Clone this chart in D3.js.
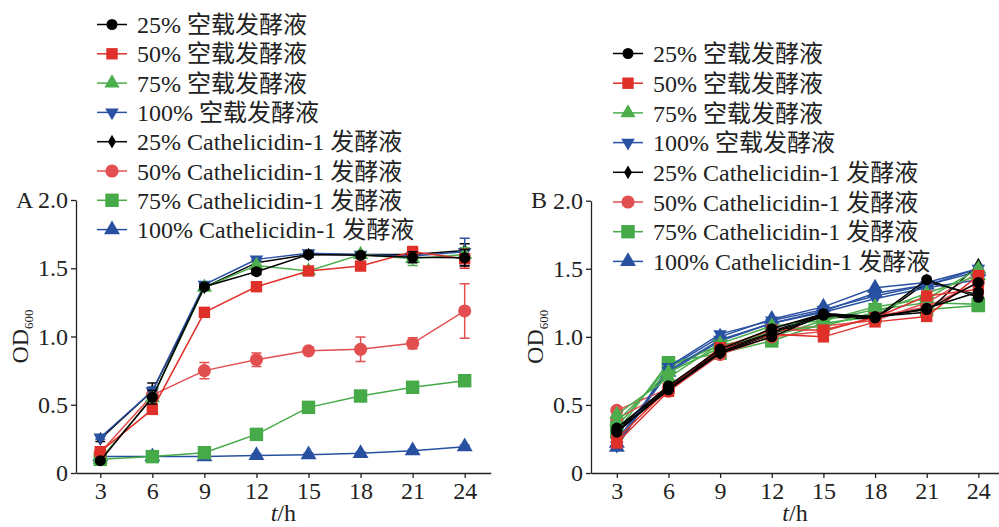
<!DOCTYPE html>
<html>
<head>
<meta charset="utf-8">
<script src="https://cdn.jsdelivr.net/npm/d3@7"></script>
<style>
    body { margin: 0; background: #fff; }
    svg { display: block; font-family: "Liberation Serif", "Times New Roman", "Noto Sans CJK SC", serif; }
</style>
</head>
<body>
<svg id="chart" width="999" height="527"></svg>
<script>
// время, ч
var hours = [3, 6, 9, 12, 15, 18, 21, 24]
var yTicks = [0, 0.5, 1.0, 1.5, 2.0]
var yTickLabels = ['0', '0.5', '1.0', '1.5', '2.0']

var legendNames = [
    '25% 空载发酵液',
    '50% 空载发酵液',
    '75% 空载发酵液',
    '100% 空载发酵液',
    '25% Cathelicidin-1 发酵液',
    '50% Cathelicidin-1 发酵液',
    '75% Cathelicidin-1 发酵液',
    '100% Cathelicidin-1 发酵液'
]
var colors = ['#000000', '#e0302a', '#4cae4c', '#2a52a3', '#000000', '#e24f50', '#45aa47', '#2850a0']
var shapes = ['circle', 'square', 'triangle', 'triangleDown', 'diamond', 'circle', 'square', 'triangle']
var markerSizes = [95, 130, 100, 80, 55, 135, 180, 110]

// панель A: средние
var a25Empty = [0.09, 0.555, 1.365, 1.475, 1.60, 1.595, 1.58, 1.577]
var a50Empty = [0.156, 0.466, 1.177, 1.365, 1.48, 1.516, 1.62, 1.57]
var a75Empty = [0.10, 0.55, 1.36, 1.52, 1.48, 1.60, 1.57, 1.60]
var a100Empty = [0.26, 0.60, 1.38, 1.565, 1.61, 1.60, 1.59, 1.62]
var a25Cath = [0.25, 0.60, 1.36, 1.54, 1.60, 1.60, 1.60, 1.63]
var a50Cath = [0.15, 0.57, 0.75, 0.83, 0.895, 0.906, 0.95, 1.187]
var a75Cath = [0.10, 0.12, 0.149, 0.283, 0.481, 0.564, 0.628, 0.676]
var a100Cath = [0.12, 0.12, 0.12, 0.129, 0.134, 0.144, 0.163, 0.193]

// панель A: ошибки
var a25EmptyErr = [0.01, 0.05, 0.02, 0.02, 0.02, 0.02, 0.04, 0.06]
var a50EmptyErr = [0.02, 0.03, 0.02, 0.02, 0.02, 0.02, 0.04, 0.07]
var a75EmptyErr = [0.01, 0.03, 0.02, 0.02, 0.02, 0.02, 0.05, 0.05]
var a100EmptyErr = [0.01, 0.03, 0.02, 0.02, 0.02, 0.02, 0.03, 0.10]
var a25CathErr = [0.02, 0.06, 0.02, 0.02, 0.02, 0.02, 0.03, 0.05]
var a50CathErr = [0.02, 0.05, 0.06, 0.05, 0.02, 0.09, 0.04, 0.20]
var a75CathErr = [0.01, 0.01, 0.01, 0.02, 0.02, 0.02, 0.02, 0.02]
var a100CathErr = [0.01, 0.01, 0.01, 0.01, 0.01, 0.01, 0.01, 0.01]

// панель B: повторы
var b25Empty = [
    [0.31, 0.61, 0.88, 1.00, 1.16, 1.14, 1.42, 1.29],
    [0.33, 0.64, 0.91, 1.06, 1.17, 1.15, 1.20, 1.40],
    [0.30, 0.62, 0.89, 1.03, 1.16, 1.14, 1.21, 1.33]
]
var b50Empty = [
    [0.22, 0.60, 0.90, 1.02, 1.00, 1.11, 1.15, 1.45],
    [0.25, 0.62, 0.92, 1.05, 1.05, 1.14, 1.30, 1.35]
]
var b75Empty = [
    [0.43, 0.70, 0.95, 1.08, 1.12, 1.22, 1.28, 1.50],
    [0.38, 0.74, 0.92, 1.04, 1.08, 1.18, 1.32, 1.45]
]
var b100Empty = [
    [0.20, 0.78, 1.02, 1.12, 1.20, 1.30, 1.38, 1.50],
    [0.24, 0.75, 0.98, 1.10, 1.18, 1.28, 1.36, 1.42]
]
var b25Cath = [
    [0.32, 0.63, 0.90, 1.04, 1.17, 1.15, 1.18, 1.53],
    [0.30, 0.61, 0.88, 1.02, 1.15, 1.13, 1.40, 1.31]
]
var b50Cath = [
    [0.46, 0.62, 0.91, 1.05, 1.08, 1.12, 1.25, 1.47],
    [0.40, 0.60, 0.87, 1.00, 1.04, 1.15, 1.22, 1.40]
]
var b75Cath = [
    [0.30, 0.81, 0.88, 0.97, 1.10, 1.15, 1.20, 1.23],
    [0.34, 0.78, 0.94, 1.00, 1.12, 1.20, 1.25, 1.24]
]
var b100Cath = [
    [0.19, 0.77, 1.00, 1.13, 1.22, 1.36, 1.40, 1.50],
    [0.22, 0.74, 0.97, 1.10, 1.19, 1.32, 1.38, 1.48]
]

var svg = d3.select('#chart')

function symbolPath(shape, size) {
    var types = {
        circle: d3.symbolCircle,
        square: d3.symbolSquare,
        triangle: d3.symbolTriangle,
        triangleDown: d3.symbolTriangle,
        diamond: d3.symbolDiamond
    }
    return d3.symbol().type(types[shape]).size(size)()
}

function drawMarker(g, i, cx, cy) {
    g.append('path')
        .attr('d', symbolPath(shapes[i], markerSizes[i]))
        .attr('fill', colors[i])
        .attr('transform', 'translate(' + cx + ',' + cy + ')' + (shapes[i] === 'triangleDown' ? ' rotate(180)' : ''))
}

function createPanel(cfg) {
    var x = d3.scaleLinear().domain(cfg.xDomain).range(cfg.xRange),
        y = d3.scaleLinear().domain([0, 2]).range(cfg.yRange)
    var g = svg.append('g')

    // оси
    var xAxis = g.append('g')
        .attr('transform', 'translate(0,' + cfg.yRange[0] + ')')
        .call(d3.axisBottom(x).tickValues(hours).tickSize(5).tickSizeOuter(0).tickFormat(d3.format('d')))
    var yAxis = g.append('g')
        .attr('transform', 'translate(' + cfg.xRange[0] + ',0)')
        .call(d3.axisLeft(y).tickValues(yTicks).tickSize(5).tickSizeOuter(0)
            .tickFormat(function (d, i) { return yTickLabels[i] }))
    g.selectAll('.domain').attr('stroke', '#222').attr('stroke-width', 1.3)
    g.selectAll('.tick line').attr('stroke', '#222').attr('stroke-width', 1.3)
    g.selectAll('.tick text')
        .attr('font-family', '"Liberation Serif", serif')
        .attr('font-size', 24)
        .attr('fill', '#222')
    xAxis.selectAll('.tick text').attr('y', 9)
    yAxis.selectAll('.tick text').attr('x', -8)

    // буква панели
    g.append('text')
        .attr('x', cfg.letterX)
        .attr('y', y(2))
        .attr('dy', '0.32em')
        .attr('font-size', 24)
        .attr('fill', '#222')
        .text(cfg.letter)

    // подписи осей
    var xt = g.append('text')
        .attr('x', (cfg.xRange[0] + cfg.xRange[1]) / 2)
        .attr('y', 521)
        .attr('text-anchor', 'middle')
        .attr('font-size', 24)
        .attr('fill', '#222')
    xt.append('tspan').attr('font-style', 'italic').text('t')
    xt.append('tspan').text('/h')

    var yt = g.append('text')
        .attr('transform', 'translate(' + cfg.yTitleX + ',' + y(1) + ') rotate(-90)')
        .attr('text-anchor', 'middle')
        .attr('font-size', 24)
        .attr('fill', '#222')
    yt.append('tspan').text('OD')
    yt.append('tspan').attr('font-size', 13).attr('dy', 5).text('600')

    var line = d3.line()
        .x(function (d, i) { return x(hours[i]) })
        .y(function (d) { return y(d) })

    // серии: сначала последние, чтобы 25% оказались сверху
    for (var i = cfg.series.length - 1; i >= 0; i--) {
        var reps = cfg.series[i]
        var sg = g.append('g')
        reps.forEach(function (vals) {
            sg.append('path')
                .datum(vals)
                .attr('fill', 'none')
                .attr('stroke', colors[i])
                .attr('stroke-width', 1.5)
                .attr('d', line)
        })
        if (cfg.errors) {
            var err = cfg.errors[i]
            reps[0].forEach(function (v, k) {
                var cx = x(hours[k])
                var top = y(v + err[k]), bot = y(v - err[k])
                sg.append('path')
                    .attr('d', 'M' + cx + ',' + top + 'V' + bot +
                        'M' + (cx - 5) + ',' + top + 'H' + (cx + 5) +
                        'M' + (cx - 5) + ',' + bot + 'H' + (cx + 5))
                    .attr('stroke', colors[i])
                    .attr('stroke-width', 1.5)
                    .attr('fill', 'none')
            })
        }
        reps.forEach(function (vals) {
            vals.forEach(function (v, k) {
                drawMarker(sg, i, x(hours[k]), y(v))
            })
        })
    }

    // легенда
    var lg = g.append('g')
    legendNames.forEach(function (name, i) {
        var ly = cfg.legendY + i * cfg.legendStep
        lg.append('line')
            .attr('x1', cfg.legendX).attr('x2', cfg.legendX + 30)
            .attr('y1', ly).attr('y2', ly)
            .attr('stroke', colors[i]).attr('stroke-width', 1.5)
        drawMarker(lg, i, cfg.legendX + 15, ly)
        lg.append('text')
            .attr('x', cfg.legendX + 40)
            .attr('y', ly)
            .attr('dy', '0.36em')
            .attr('font-size', 24)
            .attr('fill', '#222')
            .text(name)
    })
}

createPanel({
    letter: 'A',
    letterX: 16,
    yTitleX: 28,
    xDomain: [1.6, 25.5],
    xRange: [76, 490.7],
    yRange: [473, 200],
    series: [[a25Empty], [a50Empty], [a75Empty], [a100Empty], [a25Cath], [a50Cath], [a75Cath], [a100Cath]],
    errors: [a25EmptyErr, a50EmptyErr, a75EmptyErr, a100EmptyErr, a25CathErr, a50CathErr, a75CathErr, a100CathErr],
    legendX: 97,
    legendY: 24.5,
    legendStep: 29.3
})

createPanel({
    letter: 'B',
    letterX: 531,
    yTitleX: 543,
    xDomain: [1.5, 25.2],
    xRange: [591, 999],
    yRange: [473, 200.7],
    series: [b25Empty, b50Empty, b75Empty, b100Empty, b25Cath, b50Cath, b75Cath, b100Cath],
    errors: null,
    legendX: 613,
    legendY: 53.5,
    legendStep: 29.7
})
</script>
</body>
</html>
